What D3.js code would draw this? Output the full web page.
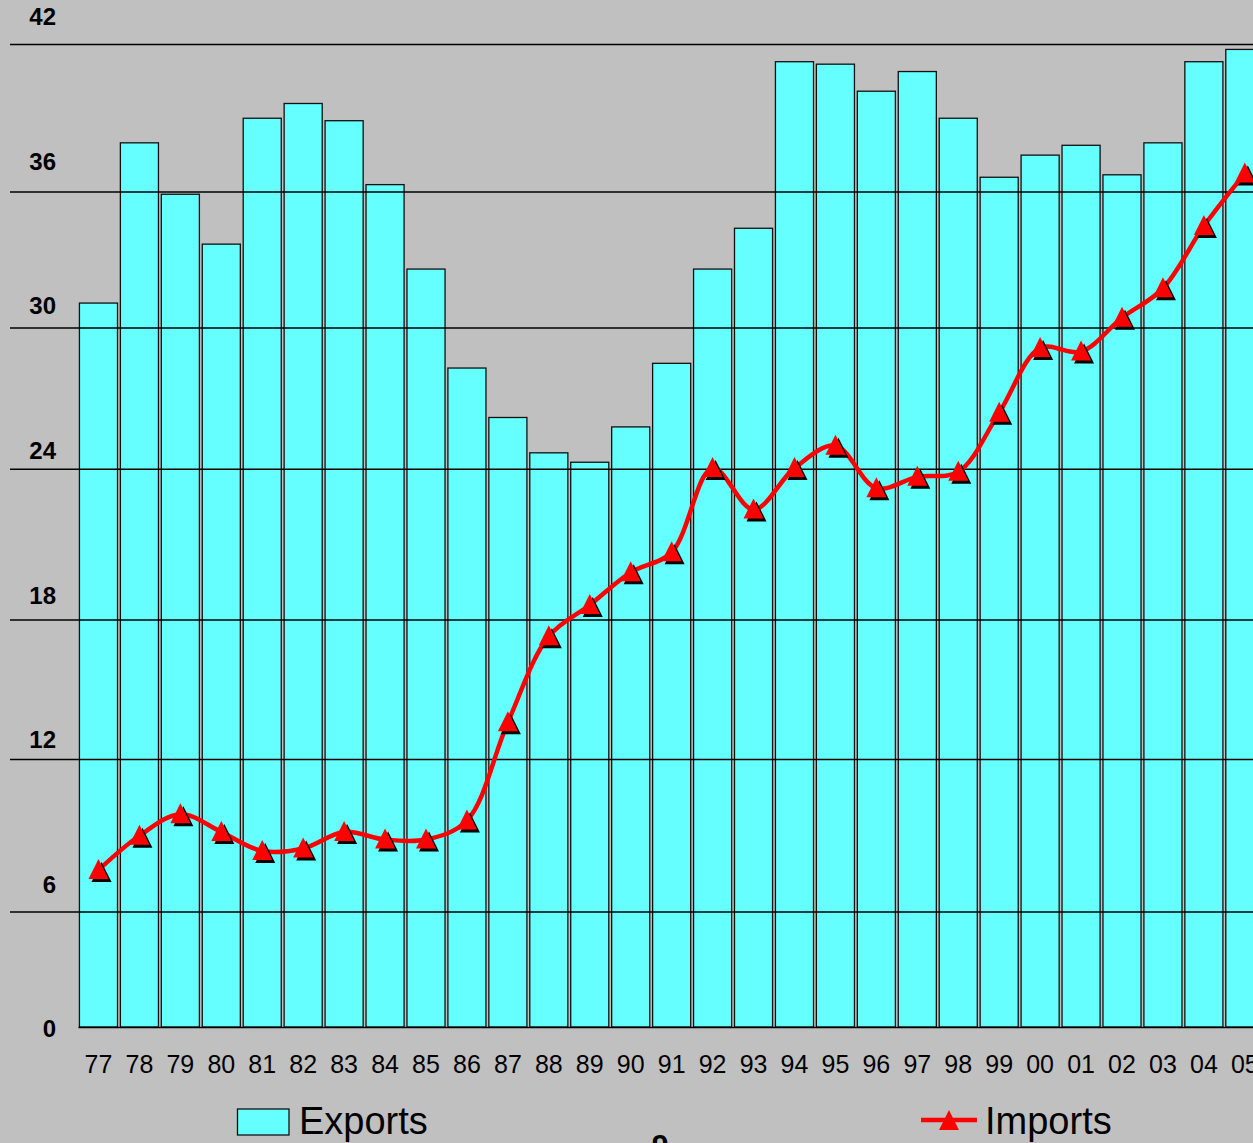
<!DOCTYPE html>
<html>
<head>
<meta charset="utf-8">
<script src="https://cdn.jsdelivr.net/npm/d3@7"></script>
<style>
  body { margin: 0; background: #c0c0c0; overflow: hidden; }
  svg { display: block; font-family: "Liberation Sans", Arial, sans-serif; }
</style>
</head>
<body>
<script>
var years = ["77","78","79","80","81","82","83","84","85","86","87","88","89","90","91",
             "92","93","94","95","96","97","98","99","00","01","02","03","04","05"];
var exports = [31.1, 38.0, 35.9, 33.7, 39.0, 39.6, 38.9, 36.3, 32.6, 28.3, 26.2, 24.7, 24.3, 25.8, 28.5,
               32.6, 34.4, 41.3, 41.2, 40.1, 40.9, 39.0, 36.6, 37.5, 37.9, 36.7, 38.0, 41.3, 41.8];
var imports = [7.65, 9.0, 9.85, 9.15, 8.4, 8.5, 9.15, 8.85, 8.85, 9.6, 13.6, 17.3, 18.6, 19.9, 20.7,
               24.05, 22.4, 24.05, 25.0, 23.25, 23.7, 23.9, 26.4, 29.15, 29.0, 30.45, 31.75, 34.5, 36.75];
var yTicks = [0, 6, 12, 18, 24, 30, 36, 42];
var gridTicks = [6, 12, 18, 24, 30, 36, 42];

var width = 1253, height = 1143;

var svg = d3.select("body").append("svg")
    .attr("width", width)
    .attr("height", height);

svg.append("rect").attr("width", width).attr("height", height).attr("fill", "#c0c0c0");

var x = d3.scaleBand()
    .domain(years)
    .range([78, 1265.3])
    .paddingInner(0.07)
    .paddingOuter(0.035);

// the plot's value axis is not evenly spaced, so it is polylinear
var y = d3.scaleLinear()
    .domain(yTicks)
    .range([1027, 912, 759.5, 620, 469.3, 328, 192, 44.5]);

// tick labels sit on their own even spacing
var yLabel = d3.scaleLinear().domain([0, 42]).range([1029, 16.7]);

// bars
svg.append("g").selectAll("rect")
    .data(exports)
    .join("rect")
    .attr("x", function(d, i) { return x(years[i]); })
    .attr("y", function(d) { return y(d); })
    .attr("width", x.bandwidth())
    .attr("height", function(d) { return y(0) - y(d); })
    .attr("fill", "#66ffff")
    .attr("stroke", "#111")
    .attr("stroke-width", 1.3);

// grid lines over the bars
svg.append("g").selectAll("line")
    .data(gridTicks)
    .join("line")
    .attr("x1", 10).attr("x2", width)
    .attr("y1", function(d) { return y(d); })
    .attr("y2", function(d) { return y(d); })
    .attr("stroke", "#000")
    .attr("stroke-width", 1.6);

// x axis
var xAxis = svg.append("g")
    .attr("transform", "translate(0," + y(0) + ")")
    .call(d3.axisBottom(x).tickSize(0).tickSizeOuter(0).tickPadding(28));
xAxis.select(".domain").attr("stroke", "#000").attr("stroke-width", 1.6);
xAxis.selectAll("text")
    .attr("font-size", 25)
    .attr("fill", "#000")
    .style("font-family", "'Liberation Sans', Arial, sans-serif");

// y labels
svg.append("g").selectAll("text")
    .data(yTicks)
    .join("text")
    .attr("x", 56)
    .attr("y", function(d) { return yLabel(d); })
    .attr("dy", "0.35em")
    .attr("text-anchor", "end")
    .attr("font-size", 24)
    .attr("font-weight", "bold")
    .text(function(d) { return d; });

// imports line
var cx = function(i) { return x(years[i]) + x.bandwidth() / 2; };
var line = d3.line()
    .x(function(d, i) { return cx(i); })
    .y(function(d) { return y(d); })
    .curve(d3.curveCatmullRom.alpha(0.5));

svg.append("path")
    .datum(imports)
    .attr("d", line)
    .attr("fill", "none")
    .attr("stroke", "#ff0000")
    .attr("stroke-width", 4.5)
    .attr("stroke-linejoin", "round");

var tri = "M0,-11L10,9L-10,9Z";

var marks = svg.append("g").selectAll("g")
    .data(imports)
    .join("g")
    .attr("transform", function(d, i) { return "translate(" + cx(i) + "," + y(d) + ")"; });
marks.append("path").attr("d", tri).attr("transform", "translate(3,3)").attr("fill", "#000");
marks.append("path").attr("d", tri).attr("fill", "#ff0000");

// legend
var legend = svg.append("g");
legend.append("rect")
    .attr("x", 237.5).attr("y", 1109)
    .attr("width", 51.5).attr("height", 26)
    .attr("fill", "#66ffff").attr("stroke", "#111").attr("stroke-width", 1.3);
legend.append("text")
    .attr("x", 299).attr("y", 1134)
    .attr("font-size", 38)
    .text("Exports");

legend.append("line")
    .attr("x1", 921).attr("x2", 977)
    .attr("y1", 1120).attr("y2", 1120)
    .attr("stroke", "#ff0000").attr("stroke-width", 4.5);
legend.append("path")
    .attr("d", tri)
    .attr("transform", "translate(949,1121)")
    .attr("fill", "#ff0000");
legend.append("text")
    .attr("x", 985).attr("y", 1134)
    .attr("font-size", 38)
    .text("Imports");

// page number, cut off by the bottom edge
svg.append("text")
    .attr("x", 660).attr("y", 1155)
    .attr("text-anchor", "middle")
    .attr("font-size", 30)
    .attr("font-weight", "bold")
    .text("9");
</script>
</body>
</html>
